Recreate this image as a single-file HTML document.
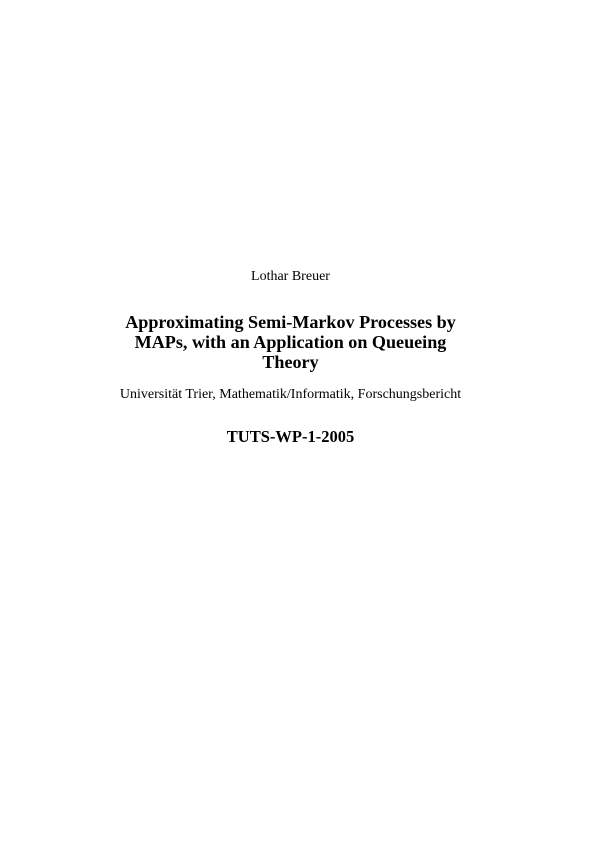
<!DOCTYPE html>
<html><head><meta charset="utf-8"><style>
body{margin:0;width:595px;height:842px;background:#fff;position:relative;font-family:"Liberation Serif",serif;color:#000}
.t{position:absolute;left:0;width:581px;text-align:center;line-height:1;white-space:nowrap}
</style></head><body>
<div class="t" style="top:270px;font-size:14px">Lothar Breuer</div>
<div class="t" style="top:312px;font-size:18.1px;font-weight:bold;line-height:20px">Approximating Semi-Markov Processes by<br>MAPs, with an Application on Queueing<br>Theory</div>
<div class="t" style="top:388px;font-size:14px">Universität Trier, Mathematik/Informatik, Forschungsbericht</div>
<div class="t" style="top:429px;font-size:16.5px;font-weight:bold">TUTS-WP-1-2005</div>
</body></html>
